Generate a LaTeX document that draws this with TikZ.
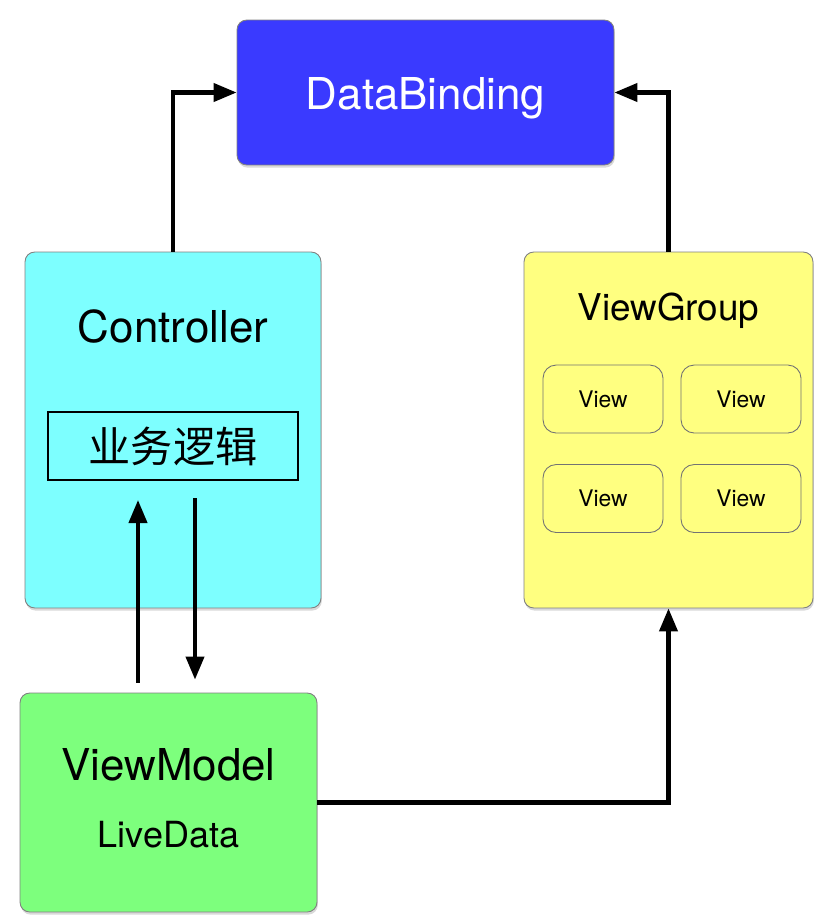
\documentclass[tikz,border=0pt]{standalone}
\usepackage{fontspec}
\setmainfont{TeX Gyre Heros}
\newfontfamily\cjk{Noto Sans CJK SC}
\usepackage{tikz}
\usetikzlibrary{arrows.meta,shadows}
\definecolor{dbblue}{HTML}{3A3AFF}
\definecolor{ctrlcyan}{HTML}{7DFFFF}
\definecolor{vgyellow}{HTML}{FFFF80}
\definecolor{vmgreen}{HTML}{7DFF7D}

\begin{document}
\begin{tikzpicture}[x=0.02cm, y=-0.02cm, >={Triangle[length=4.6mm, width=3.6mm]},
	box/.style={draw=black!50, line width=0.5pt, rounded corners=5.5pt, drop shadow={opacity=0.3, shadow xshift=0.5pt, shadow yshift=-1.5pt}},
	title/.style={anchor=base, inner sep=0pt, font=\fontsize{25}{30}\selectfont},
	viewbox/.style={draw=black!55, line width=0.5pt, rounded corners=7.5pt, minimum width=2.4cm, minimum height=1.36cm},
	link/.style={->, line width=2.3pt}]
	\useasboundingbox (0,0) rectangle (815,920);
	% main boxes
	\node[box, fill=dbblue, minimum width=7.54cm, minimum height=2.9cm] (db) at (425.5,92.5) {};
	\node[box, fill=ctrlcyan, minimum width=5.92cm, minimum height=7.12cm] (ctrl) at (173,430) {};
	\node[box, fill=vgyellow, minimum width=5.78cm, minimum height=7.12cm] (vg) at (668.5,430) {};
	\node[box, fill=vmgreen, minimum width=5.94cm, minimum height=4.38cm] (vm) at (168.5,802.5) {};
	% labels
	\node[title, text=white] (dbtext) at (425.5,109) {DataBinding};
	\node[title] (ctrltext) at (173,342) {Controller};
	\node[title, font=\fontsize{21}{25}\selectfont] (vgtext) at (668.5,320) {ViewGroup};
	\node[title] (vmtext) at (168.5,780) {ViewModel};
	\node[title, font=\fontsize{20.5}{25}\selectfont] (ldtext) at (168.5,847) {LiveData};
	% business logic
	\node[draw, line width=0.6pt, minimum width=5cm, minimum height=1.36cm, font=\cjk\fontsize{24}{28}\selectfont] (logic) at (173,446) {业务逻辑};
	% views
	\node[viewbox] (v1) at (603,399) {\fontsize{13}{15}\selectfont View};
	\node[viewbox] (v2) at (741,399) {\fontsize{13}{15}\selectfont View};
	\node[viewbox] (v3) at (603,498.5) {\fontsize{13}{15}\selectfont View};
	\node[viewbox] (v4) at (741,498.5) {\fontsize{13}{15}\selectfont View};
	% connectors
	\draw[link] (ctrl.north) |- (db.west);
	\draw[link] (vg.north) |- (db.east);
	\draw[link] (vm.east) -| (vg.south);
	\coordinate (upend) at (138,500);
	\coordinate (downstart) at (195,498);
	\draw[link, shorten <=0.2cm] (vm.north -| upend) -- (upend);
	\draw[link, shorten >=0.26cm] (downstart) -- (downstart |- vm.north);
\end{tikzpicture}
\end{document}
